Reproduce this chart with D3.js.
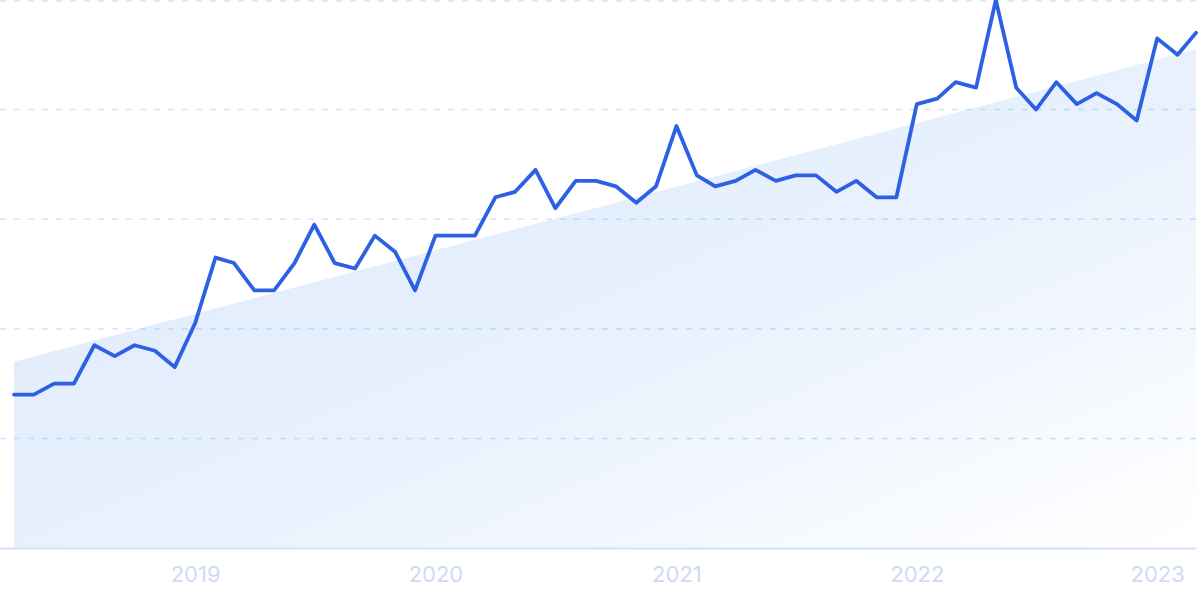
<!DOCTYPE html>
<html>
<head>
<meta charset="utf-8">
<script src="https://cdn.jsdelivr.net/npm/d3@7"></script>
<style>
  html, body { margin: 0; padding: 0; background: #ffffff; }
  svg { display: block; }
</style>
</head>
<body>
<svg id="chart" width="1200" height="600"></svg>
<script>
// ---- data ----
const startMonth = "2018-04";
const endMonth = "2023-03";
const values = [
  28, 28, 30, 30, 37, 35, 37, 36, 33,
  41, 53, 52, 47, 47, 52, 59, 52, 51, 57, 54, 47,
  57, 57, 57, 64, 65, 69, 62, 67, 67, 66, 63, 66,
  77, 68, 66, 67, 69, 67, 68, 68, 65, 67, 64, 64,
  81, 82, 85, 84, 100, 84, 80, 85, 81, 83, 81, 78,
  93, 90, 94
];
const trendValues = [34, 91];
const yTicks = [20, 40, 60, 80, 100];
const xTickLabels = ["2019", "2020", "2021", "2022", "2023"];

// ---- setup ----
const W = 1200, H = 600;
const svg = d3.select("#chart");
const parseM = d3.timeParse("%Y-%m");
const t0 = parseM(startMonth), t1 = parseM(endMonth);
const months = d3.timeMonth.range(t0, d3.timeMonth.offset(t1, 1));
const data = months.map((d, i) => ({ date: d, value: values[i] }));
const trend = [{ date: t0, value: trendValues[0] }, { date: t1, value: trendValues[1] }];

const x = d3.scaleTime().domain([t0, t1]).range([14, 1196]);
const y = d3.scaleLinear().domain([0, 100]).range([548, 0]);

const defs = svg.append("defs");
const grad = defs.append("linearGradient")
  .attr("id", "areaGrad")
  .attr("x1", 0).attr("y1", 0).attr("x2", 1).attr("y2", 1);
grad.append("stop").attr("offset", 0).attr("stop-color", "#dae8fb");
grad.append("stop").attr("offset", 0.55).attr("stop-color", "#e9f1fd");
grad.append("stop").attr("offset", 1).attr("stop-color", "#ffffff");

const area = d3.area()
  .x(d => x(d.date))
  .y0(y(0))
  .y1(d => y(d.value));

defs.append("clipPath").attr("id", "areaClip")
  .append("path").datum(trend).attr("d", area);

// gridlines (outside area)
svg.append("g").selectAll("line").data(yTicks).join("line")
  .attr("x1", 0).attr("x2", W)
  .attr("y1", d => Math.max(0.75, y(d))).attr("y2", d => Math.max(0.75, y(d)))
  .attr("stroke", "#d9e5fb").attr("stroke-width", 1.5)
  .attr("stroke-dasharray", "6,8");

// trend area
svg.append("path").datum(trend)
  .attr("d", area)
  .attr("fill", "url(#areaGrad)");

// gridlines (inside area)
svg.append("g").attr("clip-path", "url(#areaClip)")
  .selectAll("line").data(yTicks).join("line")
  .attr("x1", 0).attr("x2", W)
  .attr("y1", d => y(d)).attr("y2", d => y(d))
  .attr("stroke", "#b4e0fa").attr("stroke-width", 1.5)
  .attr("stroke-dasharray", "6,8");

// baseline
svg.append("line")
  .attr("x1", 0).attr("x2", x(t1))
  .attr("y1", y(0) + 0.5).attr("y2", y(0) + 0.5)
  .attr("stroke", "#d4e2fa").attr("stroke-width", 2);

// main line
const line = d3.line().x(d => x(d.date)).y(d => y(d.value));
svg.append("path").datum(data)
  .attr("d", line)
  .attr("fill", "none")
  .attr("stroke", "#2d61e4")
  .attr("stroke-width", 3.8)
  .attr("stroke-linejoin", "round")
  .attr("stroke-linecap", "round");

// x axis labels
const xAxis = d3.axisBottom(x)
  .tickValues(xTickLabels.map(s => parseM(s + "-01")))
  .tickFormat((d, i) => xTickLabels[i])
  .tickSize(0).tickPadding(0);
const ax = svg.append("g").attr("transform", `translate(0, ${y(0)})`).call(xAxis);
ax.select(".domain").remove();
ax.selectAll("text")
  .attr("y", 34)
  .attr("dy", 0)
  .attr("fill", "#cfdbf5")
  .style("font-family", "Inter, 'Noto Sans', sans-serif")
  .style("font-size", "22px");
</script>
</body>
</html>
